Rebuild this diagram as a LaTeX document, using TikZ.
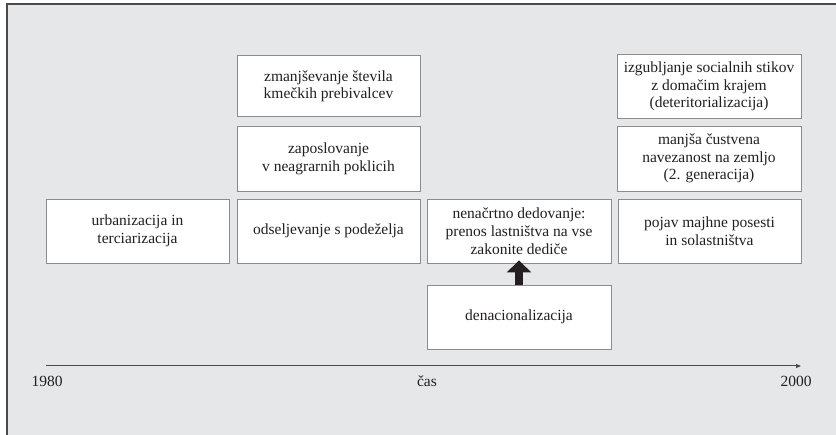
\documentclass[tikz,border=0pt]{standalone}
\usepackage{fontspec}
\setmainfont{Liberation Serif}
\usetikzlibrary{arrows.meta}
\definecolor{bggray}{HTML}{E6E7E8}
\definecolor{framegray}{HTML}{4A4A4A}
\definecolor{boxgray}{HTML}{8C8C8C}
\definecolor{inkgray}{HTML}{231F20}
\newcommand{\boxfont}{\fontsize{15.5}{17.7}\selectfont}
\tikzset{
	box/.style={draw=boxgray, fill=white, line width=0.9pt, inner sep=0pt, align=center, text=inkgray, font=\boxfont},
	yearlabel/.style={anchor=base, text=inkgray, font=\boxfont}
}

\begin{document}
\begin{tikzpicture}[x=1pt, y=-1pt]
			%%%%% START %%%%%
			
			\useasboundingbox (0, 0) rectangle (836, 435);
			\fill[bggray] (7, 4) rectangle (836, 435);
			\draw[framegray, line width=1.4pt] (7, 435) -- (7, 4) -- (836, 4);
			
			% bottom row
			\node[box, minimum width=183pt, minimum height=64pt] (urban) at (137.5, 231) {urbanizacija in\\terciarizacija};
			\node[box, minimum width=183pt, minimum height=64pt] (odsel) at (328.5, 231) {odseljevanje s podeželja};
			\node[box, minimum width=184pt, minimum height=64pt] (dedov) at (519, 231) {nenačrtno dedovanje:\\prenos lastništva na vse\\zakonite dediče};
			\node[box, minimum width=183pt, minimum height=64pt] (pojav) at (709.5, 231) {pojav majhne posesti\\in solastništva};
			
			% second column
			\node[box, minimum width=183pt, minimum height=65pt] (zaposl) at (328.5, 158.5) {zaposlovanje\\v neagrarnih poklicih};
			\node[box, minimum width=183pt, minimum height=61pt] (zmanj) at (328.5, 86.2) {zmanjševanje števila\\kmečkih prebivalcev};
			
			% fourth column
			\node[box, minimum width=184pt, minimum height=65pt] (custv) at (709, 158.5) {manjša čustvena\\navezanost na zemljo\\(2. generacija)};
			\node[box, minimum width=184pt, minimum height=64pt] (izgub) at (709, 86.3) {izgubljanje socialnih stikov\\z domačim krajem\\(deteritorializacija)};
			
			% denacionalizacija
			\node[box, minimum width=184pt, minimum height=64pt] (denac) at (519, 317) {denacionalizacija};
			\draw[inkgray, line width=8pt, -{Triangle[width=24pt, length=12pt]}] (denac.north) -- ([yshift=3pt]dedov.south);
			
			% time axis
			\coordinate (tstart) at (46, 366);
			\coordinate (tend) at (801, 366);
			\draw[framegray, line width=1pt, -{Triangle[width=4pt, length=5pt]}] (tstart) -- (tend);
			\node[yearlabel] (y1980) at (47, 387) {1980};
			\node[yearlabel] (cas) at (427, 387) {čas};
			\node[yearlabel] (y2000) at (796, 387) {2000};
			
			%%%%% END %%%%%
\end{tikzpicture}
\end{document}
